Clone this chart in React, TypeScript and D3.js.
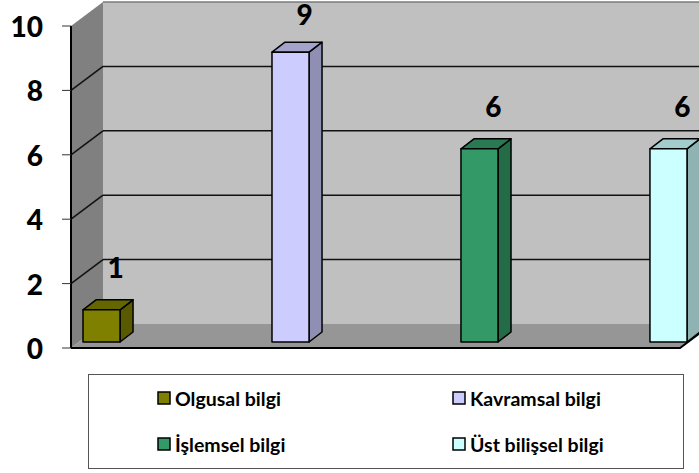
import React from "react";
import * as d3 from "d3";

const categories = ["Olgusal bilgi", "Kavramsal bilgi", "İşlemsel bilgi", "Üst bilişsel bilgi"];
const values = [1, 9, 6, 6];
const frontColors = ["#808000", "#ccccff", "#339966", "#ccffff"];
const sideColors = ["#595900", "#8f8fb3", "#246b47", "#8fb3b3"];
const topColors = ["#666600", "#a3a3cc", "#297a52", "#a3cccc"];
const yTicks = [0, 2, 4, 6, 8, 10];

const W = 699;
const H = 473;
const plotLeft = 71;
const plotRight = 680;
const yFront0 = 348;
const yFront10 = 26;
const DX = 32; // full depth offset
const DY = 24;
const barDX = 8; // bar front face depth
const barDY = 6;
const barDepthX = 13;
const barDepthY = 10;
const FONT = "Lato, 'Open Sans', sans-serif";

export default function App() {
  const y = d3.scaleLinear().domain([0, 10]).range([yFront0, yFront10]);
  const x = d3
    .scaleBand<string>()
    .domain(categories)
    .range([plotLeft + 4, plotRight - 1])
    .paddingInner(0.804)
    .paddingOuter(0);
  const bw = x.bandwidth();
  const backRight = plotRight + DX + 40;

  const legendRows = [
    [0, 1],
    [2, 3],
  ];
  const legendColX = [158, 453];
  const legendRowY = [398, 444];

  return (
    <svg
      width={W}
      height={H}
      style={{ position: "absolute", left: 0, top: 0, background: "#fff" }}
    >
      {/* back wall */}
      <rect
        x={plotLeft + DX}
        y={y(10) - DY}
        width={backRight - plotLeft - DX}
        height={y(0) - y(10)}
        fill="#c0c0c0"
      />
      <line
        x1={plotLeft + DX}
        x2={backRight}
        y1={y(10) - DY}
        y2={y(10) - DY}
        stroke="#7a7a7a"
        strokeWidth={1.5}
      />
      {/* left wall */}
      <polygon
        points={`${plotLeft},${y(0)} ${plotLeft},${y(10)} ${plotLeft + DX},${y(10) - DY} ${plotLeft + DX},${y(0) - DY}`}
        fill="#808080"
      />
      {/* floor */}
      <polygon
        points={`${plotLeft},${y(0)} ${plotRight},${y(0)} ${plotRight + DX},${y(0) - DY} ${plotLeft + DX},${y(0) - DY}`}
        fill="#969696"
      />
      {/* gridlines */}
      {yTicks
        .filter((t) => t > 0 && t < 10)
        .map((t) => (
          <g key={"g" + t}>
            <line
              x1={plotLeft}
              y1={y(t)}
              x2={plotLeft + DX}
              y2={y(t) - DY}
              stroke="#111"
              strokeWidth={1.5}
            />
            <line
              x1={plotLeft + DX}
              y1={y(t) - DY}
              x2={backRight}
              y2={y(t) - DY}
              stroke="#111"
              strokeWidth={1.5}
            />
          </g>
        ))}
      {/* floor edges */}
      <polyline
        points={`${plotLeft},${y(0)} ${plotRight},${y(0)} ${plotRight + DX},${y(0) - DY}`}
        fill="none"
        stroke="#000"
        strokeWidth={2}
      />
      {/* y axis */}
      <line x1={plotLeft} x2={plotLeft} y1={y(10)} y2={y(0)} stroke="#000" strokeWidth={2} />
      {yTicks.map((t) => (
        <g key={"t" + t}>
          <line x1={plotLeft - 9} x2={plotLeft} y1={y(t)} y2={y(t)} stroke="#333" strokeWidth={1} />
          <text
            x={43}
            y={y(t)}
            textAnchor="end"
            dominantBaseline="central"
            fontFamily={FONT}
            fontWeight={900}
            fontSize={28}
            fill="#000"
          >
            {t}
          </text>
        </g>
      ))}
      {/* bars */}
      {categories.map((c, i) => {
        const xl = (x(c) as number) + barDX;
        const xr = xl + bw;
        const base = y(0) - barDY;
        const top = y(values[i]) - barDY;
        return (
          <g key={c} stroke="#000" strokeWidth={1.5} strokeLinejoin="round">
            <polygon
              points={`${xr},${top} ${xr + barDepthX},${top - barDepthY} ${xr + barDepthX},${base - barDepthY} ${xr},${base}`}
              fill={sideColors[i]}
            />
            <polygon
              points={`${xl},${top} ${xl + barDepthX},${top - barDepthY} ${xr + barDepthX},${top - barDepthY} ${xr},${top}`}
              fill={topColors[i]}
            />
            <rect x={xl} y={top} width={bw} height={base - top} fill={frontColors[i]} />
          </g>
        );
      })}
      {/* data labels */}
      {categories.map((c, i) => {
        const xl = (x(c) as number) + barDX;
        const top = y(values[i]) - barDY - barDepthY;
        return (
          <text
            key={"l" + c}
            x={xl + bw / 2 + 14}
            y={Math.max(top - 22, 25)}
            textAnchor="middle"
            fontFamily={FONT}
            fontWeight={900}
            fontSize={28}
            fill="#000"
          >
            {values[i]}
          </text>
        );
      })}
      {/* legend */}
      <rect x={88.5} y={374.5} width={595} height={94} fill="#fff" stroke="#555" strokeWidth={1} />
      {legendRows.map((row, ri) =>
        row.map((idx, ci) => (
          <g key={"lg" + idx}>
            <rect
              x={legendColX[ci]}
              y={legendRowY[ri] - 6}
              width={12}
              height={12}
              fill={frontColors[idx]}
              stroke="#000"
              strokeWidth={1.5}
            />
            <text
              x={legendColX[ci] + 17}
              y={legendRowY[ri]}
              dominantBaseline="central"
              fontFamily={FONT}
              fontWeight="bold"
              fontSize={19.5}
              fill="#000"
            >
              {categories[idx]}
            </text>
          </g>
        ))
      )}
    </svg>
  );
}
